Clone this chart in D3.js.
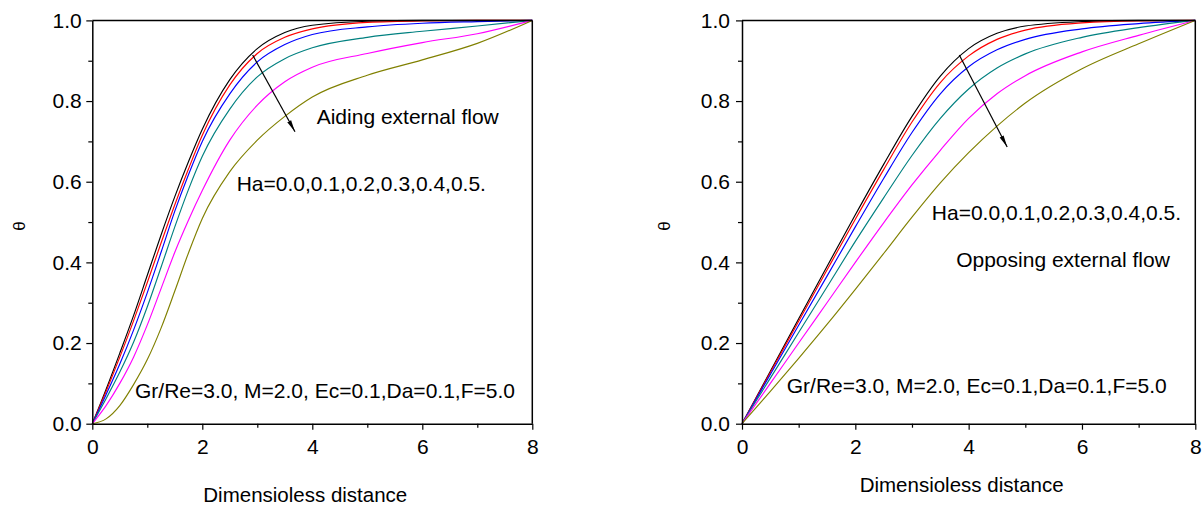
<!DOCTYPE html>
<html><head><meta charset="utf-8">
<script src="https://cdn.jsdelivr.net/npm/d3@7"></script>
<style>
body{margin:0;background:#fff}
text{font-family:"Liberation Sans",Arial,sans-serif;fill:#000}
</style>
</head><body>
<svg id="chart" width="1204" height="506"></svg>
<script>
// ---------- data ----------
const haLabels = ["Ha=0.0","Ha=0.1","Ha=0.2","Ha=0.3","Ha=0.4","Ha=0.5"];
const curveColors = ["#000000","#ff0000","#0000ff","#008080","#ff00ff","#808000"];

// Aiding external flow (left)
const xAiding = [0,0.25,0.5,0.75,1,1.25,1.5,1.75,2,2.5,3,3.5,4,5,6,7,8];
const aidHa00 = [0,0.085,0.175,0.268,0.368,0.468,0.563,0.650,0.730,0.853,0.930,0.970,0.988,0.998,1.000,1.000,1.000];
const aidHa01 = [0,0.080,0.165,0.255,0.350,0.448,0.543,0.632,0.715,0.840,0.918,0.958,0.979,0.995,0.999,1.000,1.000];
const aidHa02 = [0,0.072,0.148,0.232,0.325,0.425,0.527,0.618,0.700,0.818,0.897,0.940,0.965,0.984,0.993,0.997,1.000];
const aidHa03 = [0,0.062,0.128,0.202,0.290,0.388,0.488,0.581,0.663,0.780,0.860,0.905,0.932,0.958,0.973,0.986,1.000];
const aidHa04 = [0,0.045,0.100,0.165,0.245,0.335,0.425,0.505,0.578,0.703,0.790,0.848,0.884,0.918,0.945,0.967,1.000];
const aidHa05 = [0,0.012,0.045,0.097,0.159,0.237,0.329,0.424,0.509,0.625,0.703,0.762,0.810,0.864,0.902,0.943,1.000];

// Opposing external flow (right)
const xOpposing = [0,0.5,1,1.5,2,2.5,3,3.5,4,4.5,5,6,7,8];
const oppHa00 = [0,0.130,0.260,0.390,0.518,0.643,0.762,0.862,0.930,0.968,0.986,0.997,1.000,1.000];
const oppHa01 = [0,0.127,0.254,0.381,0.507,0.630,0.748,0.846,0.912,0.953,0.976,0.994,0.999,1.000];
const oppHa02 = [0,0.122,0.244,0.366,0.488,0.608,0.722,0.818,0.885,0.927,0.953,0.979,0.992,1.000];
const oppHa03 = [0,0.113,0.226,0.339,0.452,0.560,0.665,0.757,0.830,0.882,0.917,0.958,0.982,1.000];
const oppHa04 = [0,0.100,0.200,0.300,0.400,0.498,0.592,0.678,0.757,0.818,0.863,0.922,0.963,1.000];
const oppHa05 = [0,0.080,0.162,0.246,0.333,0.422,0.512,0.597,0.672,0.738,0.795,0.880,0.942,1.000];

const xMajorTicks = [0,2,4,6,8];
const xMinorTicks = [1,3,5,7];
const yMajorTicks = [0,0.2,0.4,0.6,0.8,1.0];
const yMinorTicks = [0.1,0.3,0.5,0.7,0.9];

const xTitle = "Dimensioless distance";
const yTitle = "\u03b8";
const paramText = "Gr/Re=3.0, M=2.0, Ec=0.1,Da=0.1,F=5.0";
const haText = "Ha=0.0,0.1,0.2,0.3,0.4,0.5.";

// ---------- drawing ----------
const svg = d3.select("#chart");
svg.append("rect").attr("width",1204).attr("height",506).attr("fill","#fff");

const panels = [
  {x:xAiding, series:[aidHa00,aidHa01,aidHa02,aidHa03,aidHa04,aidHa05],
   xr:[92.3,532.3], pad:4.5, yTitleX:20, xTitleY:502,
   flow:"Aiding external flow", flowPos:[4.08,0.743],
   haPos:[2.625,0.577], parPos:[0.776,0.063],
   arrow:[[2.916,0.914],[3.685,0.724]]},
  {x:xOpposing, series:[oppHa00,oppHa01,oppHa02,oppHa03,oppHa04,oppHa05],
   xr:[742,1195.3], pad:6, yTitleX:665, xTitleY:492,
   flow:"Opposing external flow", flowPos:[3.78,0.389],
   haPos:[3.35,0.505], parPos:[0.79,0.075],
   arrow:[[3.835,0.914],[4.68,0.686]]}
];

const defs = svg.append("defs");
defs.append("marker").attr("id","ah").attr("viewBox","0 0 12 6")
  .attr("refX",12).attr("refY",3).attr("markerWidth",12).attr("markerHeight",6)
  .attr("markerUnits","userSpaceOnUse").attr("orient","auto")
  .append("path").attr("d","M0,0.8 L12,3 L0,5.2 Z").attr("fill","#000");

panels.forEach(p => {
  const x = d3.scaleLinear().domain([0,8]).range(p.xr);
  const y = d3.scaleLinear().domain([0,1]).range([423.7,20.4]);
  const g = svg.append("g");

  // curves
  const line = d3.line().x(d=>x(d[0])).y(d=>y(d[1])).curve(d3.curveMonotoneX);
  p.series.forEach((s,i) => {
    g.append("path").datum(p.x.map((xv,j)=>[xv,s[j]]))
      .attr("d",line).attr("fill","none")
      .attr("stroke",curveColors[i]).attr("stroke-width",1.15)
      .attr("data-label",haLabels[i]);
  });

  // frame top/right
  g.append("line").attr("x1",x(0)).attr("x2",x(8)).attr("y1",y(1)).attr("y2",y(1))
    .attr("stroke","#000").attr("stroke-width",1.5);
  g.append("line").attr("x1",x(8)).attr("x2",x(8)).attr("y1",y(0)).attr("y2",y(1))
    .attr("stroke","#000").attr("stroke-width",1.5);

  // axes
  g.append("g").attr("transform",`translate(0,${y(0)})`)
    .call(d3.axisBottom(x).tickValues(xMajorTicks).tickSize(6).tickSizeOuter(0)
      .tickPadding(9).tickFormat(d3.format("d")));
  g.append("g").attr("transform",`translate(0,${y(0)})`)
    .call(d3.axisBottom(x).tickValues(xMinorTicks).tickSize(4).tickSizeOuter(0).tickFormat(""))
    .select(".domain").remove();
  g.append("g").attr("transform",`translate(${x(0)},0)`)
    .call(d3.axisLeft(y).tickValues(yMajorTicks).tickSize(6).tickSizeOuter(0)
      .tickPadding(p.pad).tickFormat(d3.format(".1f")));
  g.append("g").attr("transform",`translate(${x(0)},0)`)
    .call(d3.axisLeft(y).tickValues(yMinorTicks).tickSize(4).tickSizeOuter(0).tickFormat(""))
    .select(".domain").remove();
  g.selectAll(".domain").attr("stroke","#000").attr("stroke-width",1.5);
  g.selectAll(".tick line").attr("stroke","#000").attr("stroke-width",1.2);
  g.selectAll(".tick text").attr("font-size",21)
    .attr("font-family","Liberation Sans, Arial, sans-serif").attr("fill","#000");

  // titles
  g.append("text").attr("x",(p.xr[0]+p.xr[1])/2 - 7).attr("y",p.xTitleY)
    .attr("text-anchor","middle").attr("font-size",20.5).text(xTitle);
  g.append("text").attr("transform",`translate(${p.yTitleX+5},226) rotate(-90)`)
    .attr("text-anchor","middle").attr("font-size",17)
    .attr("font-family","Liberation Serif, serif").text(yTitle);

  // annotations
  g.append("text").attr("x",x(p.flowPos[0])).attr("y",y(p.flowPos[1]))
    .attr("font-size",21).text(p.flow);
  g.append("text").attr("x",x(p.haPos[0])).attr("y",y(p.haPos[1]))
    .attr("font-size",21).text(haText);
  g.append("text").attr("x",x(p.parPos[0])).attr("y",y(p.parPos[1]))
    .attr("font-size",21).text(paramText);

  g.append("line")
    .attr("x1",x(p.arrow[0][0])).attr("y1",y(p.arrow[0][1]))
    .attr("x2",x(p.arrow[1][0])).attr("y2",y(p.arrow[1][1]))
    .attr("stroke","#000").attr("stroke-width",1.2).attr("marker-end","url(#ah)");
});
</script>
</body></html>
